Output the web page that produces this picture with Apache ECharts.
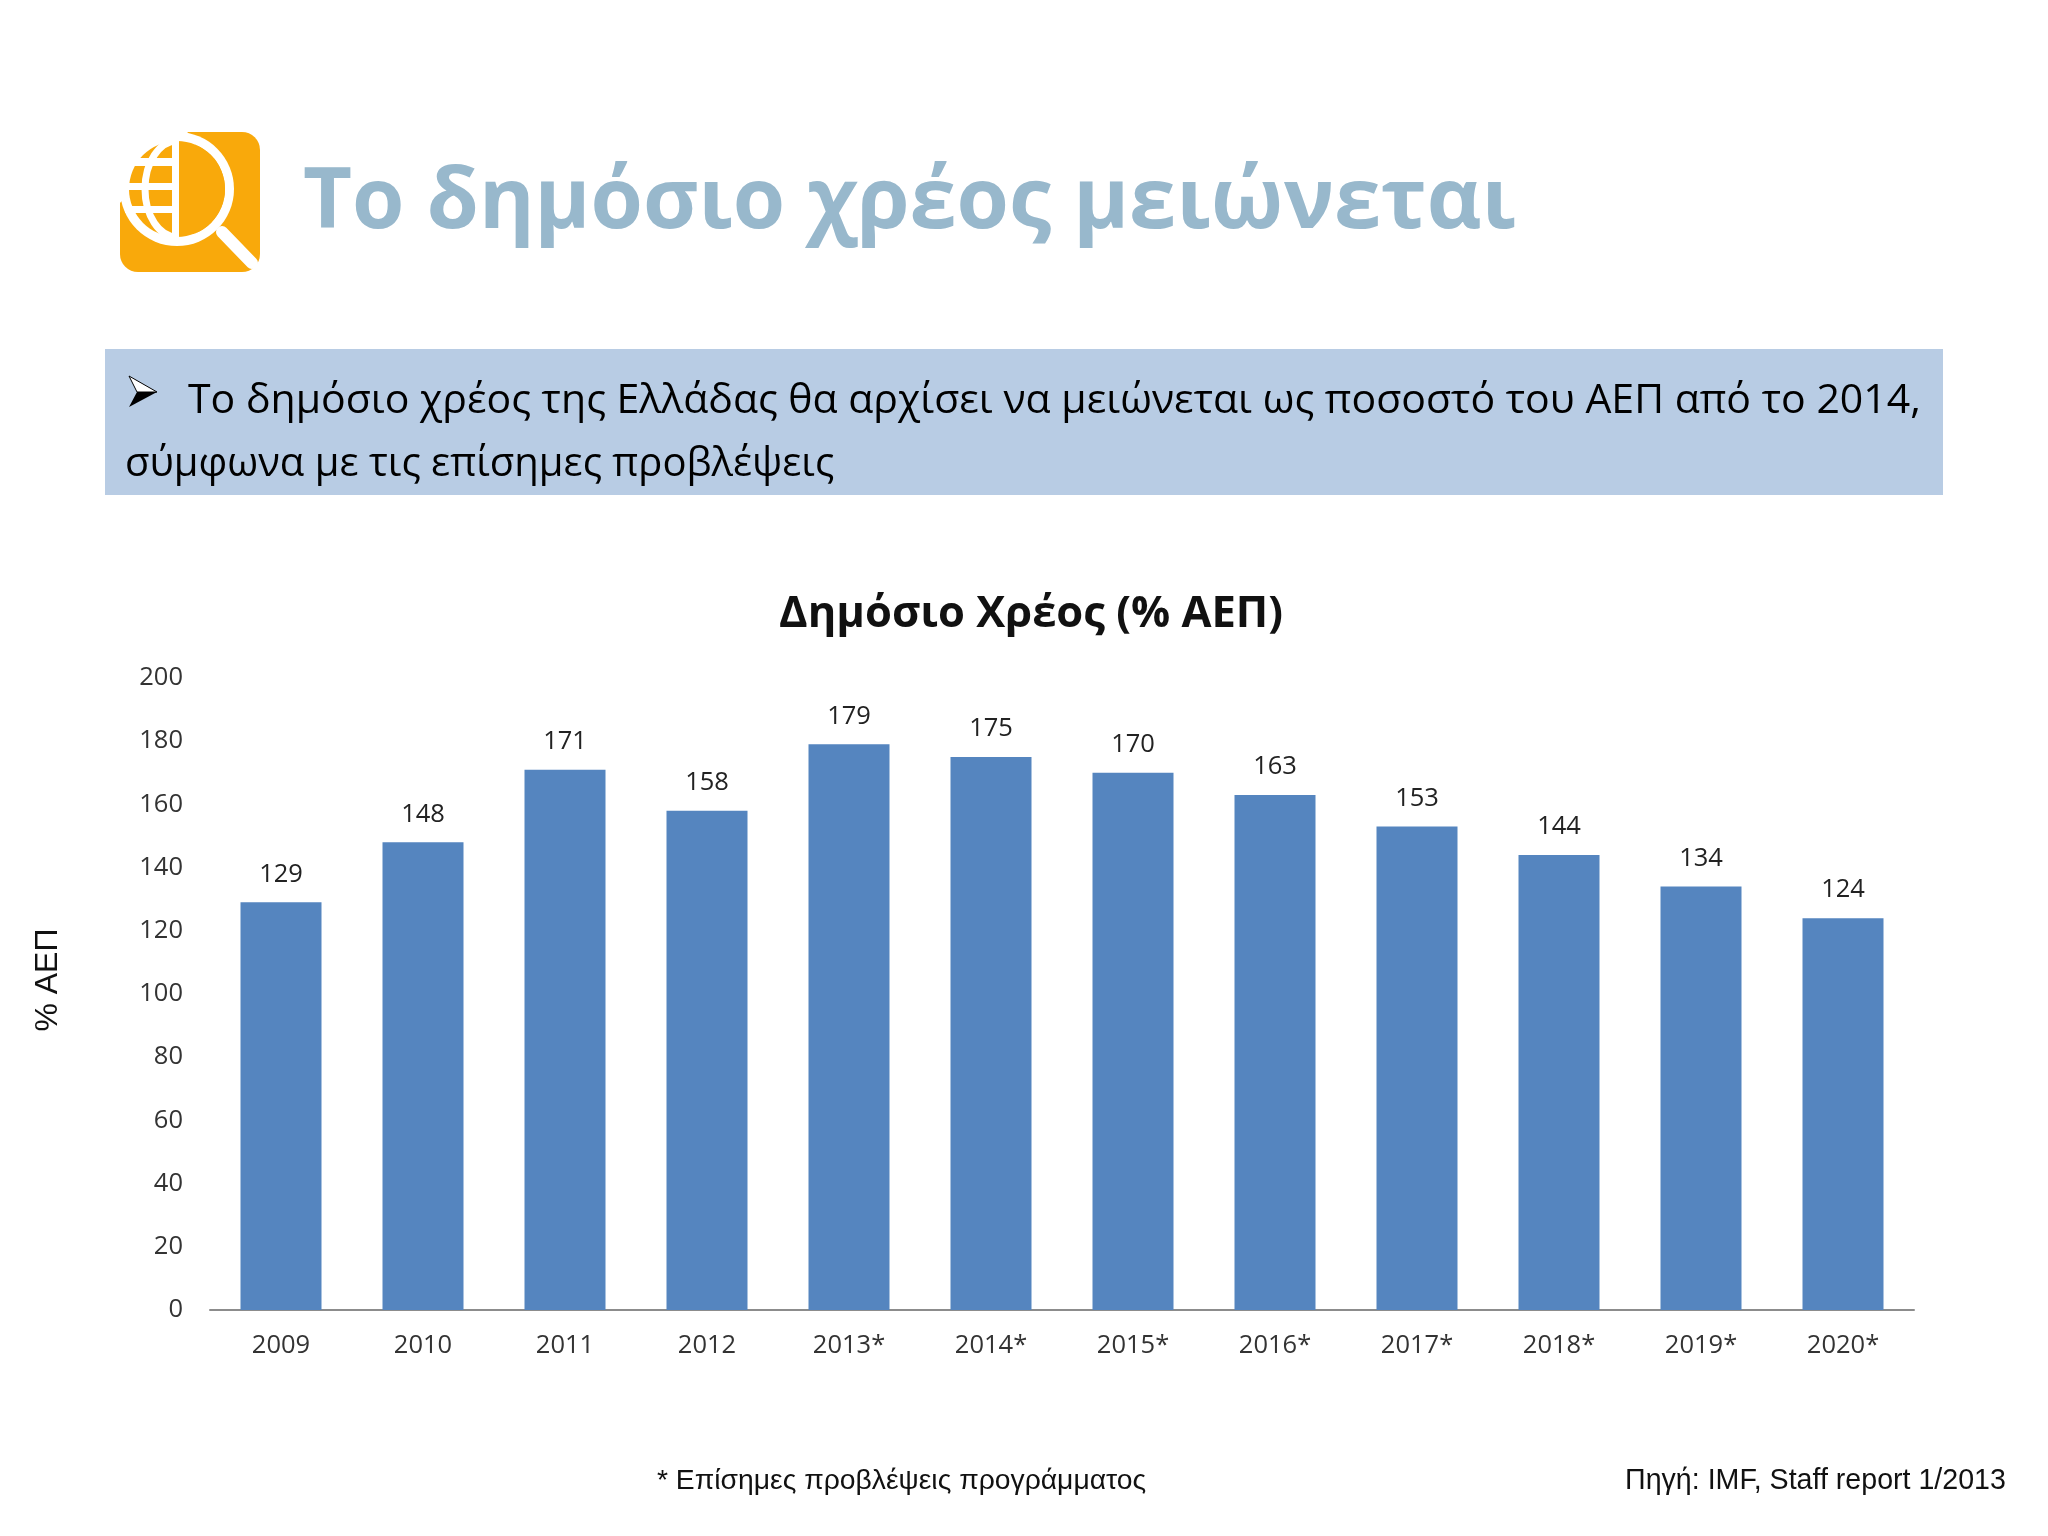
<!DOCTYPE html>
<html lang="el">
<head>
    <meta charset="UTF-8">
    <title>Δημόσιο Χρέος</title>
    <script src="https://cdn.jsdelivr.net/npm/echarts@6/dist/echarts.min.js"></script>
</head>
<body style="margin: 0; background: #fff;">
<div id="container" style="width: 2048px; height: 1536px;"></div>
<script type="text/javascript">
    // data
    let years = ['2009', '2010', '2011', '2012', '2013*', '2014*', '2015*', '2016*', '2017*', '2018*', '2019*', '2020*'];
    let debt = [129, 148, 171, 158, 179, 175, 170, 163, 153, 144, 134, 124];

    let slideTitle = 'Το δημόσιο χρέος μειώνεται';
    let bodyLines = [
        'Το δημόσιο χρέος της Ελλάδας θα αρχίσει να μειώνεται ως ποσοστό του ΑΕΠ από το 2014,',
        'σύμφωνα με τις επίσημες προβλέψεις'
    ];
    let chartTitle = 'Δημόσιο Χρέος (% ΑΕΠ)';
    let yName = '% ΑΕΠ';
    let footNote = '* Επίσημες προβλέψεις προγράμματος';
    let sourceNote = 'Πηγή: IMF, Staff report 1/2013';

    let font = '"Open Sans", "Noto Sans", sans-serif';
    let arial = '"Liberation Sans", Arial, sans-serif';
    let orange = '#F9A90B';

    // magnifier + globe logo
    let logo = [
        {type: 'rect', shape: {x: 120, y: 132, width: 140, height: 140, r: 18}, style: {fill: orange}},
        {type: 'polygon', shape: {points: [[118, 130], [190, 130], [118, 205]]}, style: {fill: '#fff'}},
        {type: 'line', shape: {x1: 222, y1: 232, x2: 252, y2: 263}, style: {stroke: '#fff', lineWidth: 12, lineCap: 'round'}},
        {type: 'circle', shape: {cx: 177, cy: 189, r: 57}, style: {fill: '#fff'}},
        {type: 'circle', shape: {cx: 177, cy: 189, r: 48}, style: {fill: orange}},
        {type: 'rect', shape: {x: 125, y: 158, width: 50, height: 8}, style: {fill: '#fff'}},
        {type: 'rect', shape: {x: 125, y: 183, width: 50, height: 7}, style: {fill: '#fff'}},
        {type: 'rect', shape: {x: 125, y: 206, width: 50, height: 7}, style: {fill: '#fff'}},
        {type: 'ellipse', shape: {cx: 177, cy: 189, rx: 32, ry: 48}, style: {fill: 'none', stroke: '#fff', lineWidth: 7}},
        {type: 'sector', shape: {cx: 177, cy: 189, r: 48, startAngle: -Math.PI / 2, endAngle: Math.PI / 2}, style: {fill: orange}},
        {type: 'rect', shape: {x: 172, y: 136, width: 7, height: 106}, style: {fill: '#fff'}}
    ];

    let texts = [
        {type: 'rect', shape: {x: 105, y: 349, width: 1838, height: 146}, style: {fill: '#B8CCE4'}},
        {type: 'polygon', shape: {points: [[129, 376], [157, 392], [137, 392]]}, style: {fill: '#fff', stroke: '#000', lineWidth: 1}},
        {type: 'polygon', shape: {points: [[129, 407], [157, 392], [137, 392]]}, style: {fill: '#000'}},
        {type: 'text', x: 303, y: 204, style: {text: slideTitle, font: 'bold 84.7px ' + font, fill: '#98B8CC', textVerticalAlign: 'middle'}},
        {type: 'text', x: 188, y: 401, style: {text: bodyLines[0], font: '41px ' + font, fill: '#000', textVerticalAlign: 'middle'}},
        {type: 'text', x: 125, y: 465, style: {text: bodyLines[1], font: '40px ' + font, fill: '#000', textVerticalAlign: 'middle'}},
        {type: 'text', x: 657, y: 1481, style: {text: footNote, font: '28.3px ' + arial, fill: '#111', textVerticalAlign: 'middle'}},
        {type: 'text', x: 1625, y: 1481, style: {text: sourceNote, font: '28.6px ' + arial, fill: '#111', textVerticalAlign: 'middle'}}
    ];

    let myChart = echarts.init(document.getElementById('container'));
    let option = {
        backgroundColor: '#fff',
        animation: false,
        title: {
            text: chartTitle,
            left: 1026,
            top: 588,
            textAlign: 'center',
            textStyle: {fontFamily: font, fontWeight: 'bold', fontSize: 43.5, color: '#111'}
        },
        grid: {left: 210, right: 134, top: 678, bottom: 226},
        xAxis: {
            type: 'category',
            data: years,
            axisLine: {lineStyle: {color: '#8c8c8c', width: 2}},
            axisTick: {show: false},
            axisLabel: {margin: 23, fontFamily: font, fontSize: 25.5, color: '#333'}
        },
        yAxis: {
            type: 'value',
            min: 0,
            max: 200,
            interval: 20,
            name: yName,
            nameLocation: 'middle',
            nameGap: 146,
            nameTextStyle: {fontFamily: arial, fontSize: 32, color: '#111', padding: [0, 0, 0, 28]},
            axisLine: {show: false},
            axisTick: {show: false},
            splitLine: {show: false},
            axisLabel: {margin: 27, fontFamily: font, fontSize: 25.5, color: '#333'}
        },
        series: [{
            type: 'bar',
            data: debt,
            barWidth: 81,
            itemStyle: {color: '#5585BF'},
            label: {show: true, position: 'top', distance: 15, fontFamily: font, fontSize: 25.5, color: '#222'}
        }],
        graphic: logo.concat(texts)
    };
    myChart.setOption(option);
</script>
</body>
</html>
